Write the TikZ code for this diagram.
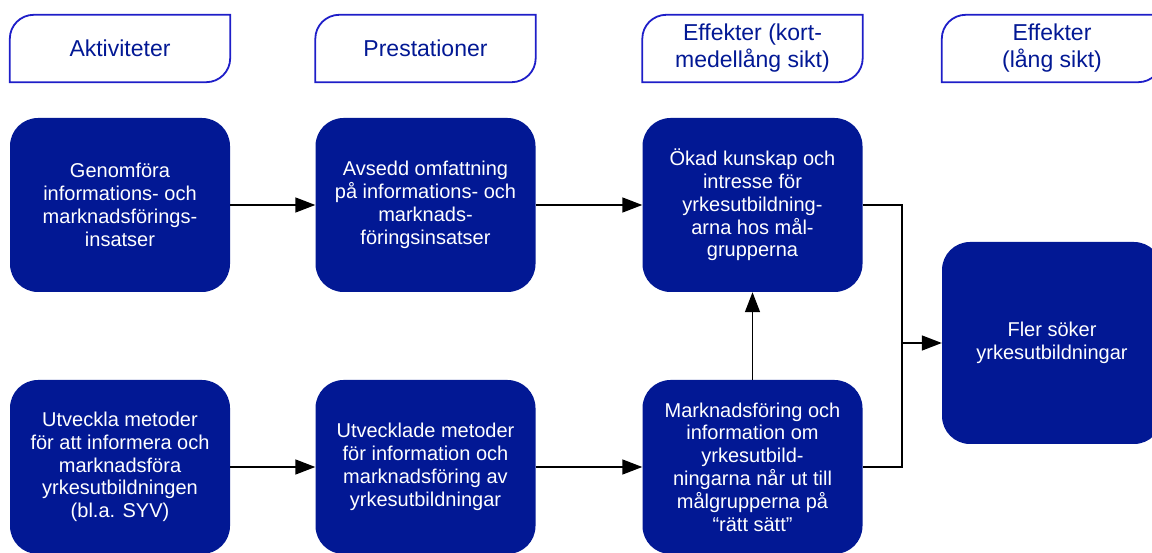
\documentclass[tikz,border=0pt]{standalone}
\usepackage{fontspec}
\setmainfont{Liberation Sans}
\usetikzlibrary{arrows.meta}
\definecolor{navy}{RGB}{2,24,148}
\definecolor{hdrblue}{RGB}{30,30,200}
\begin{document}
\begin{tikzpicture}[x=1pt,y=1pt,
  box/.style={fill=navy,draw=none,rounded corners=28pt,minimum width=220pt,text=white,
    align=center,font=\fontsize{20}{22.8}\selectfont,inner sep=0pt},
  hdr/.style={minimum width=220pt,minimum height=67pt,text=navy,align=center,
    font=\fontsize{23}{27}\selectfont,inner sep=0pt},
  hdrline/.style={draw=hdrblue,line width=1.8pt},
  conn/.style={line width=1.5pt,black},
  arr/.style={conn,-{Triangle[length=20pt,width=15pt]}}]
\useasboundingbox (0,0) rectangle (1152,552);
% headers
\node[hdr] (h1) at (120,503.5) {Aktiviteter};
\node[hdr] (h2) at (425.5,503.5) {Prestationer};
\node[hdr] (h3) at (752.5,503.5) {Effekter (kort-\\medellång sikt)};
\node[hdr] (h4) at (1052,503.5) {Effekter\\(lång sikt)};
\foreach \n in {h1,h2,h3,h4}
  \draw[hdrline] (\n.south west) -- ([yshift=-24pt]\n.north west)
    arc[start angle=180,end angle=90,radius=24pt] -- (\n.north east)
    -- ([yshift=24pt]\n.south east) arc[start angle=0,end angle=-90,radius=24pt] -- cycle;
% boxes
\node[box,minimum height=174pt] (b1) at (120,347) {Genomföra\\informations- och\\marknadsförings-\\insatser};
\node[box,minimum height=174pt] (b2) at (425.5,347) {Avsedd omfattning\\på informations- och\\marknads-\\föringsinsatser};
\node[box,minimum height=174pt] (b3) at (752.5,347) {Ökad kunskap och\\intresse för\\yrkesutbildning-\\arna hos mål-\\grupperna};
\node[box,minimum height=174pt] (b4) at (120,85) {Utveckla metoder\\för att informera och\\marknadsföra\\yrkesutbildningen\\(bl.a. SYV)};
\node[box,minimum height=174pt] (b5) at (425.5,85) {Utvecklade metoder\\för information och\\marknadsföring av\\yrkesutbildningar};
\node[box,minimum height=174pt] (b6) at (752.5,85) {Marknadsföring och\\information om\\yrkesutbild-\\ningarna når ut till\\målgrupperna på\\“rätt sätt”};
\node[box,minimum height=202pt] (b7) at (1052,209) {Fler söker\\yrkesutbildningar};
% connectors
\draw[arr] (b1) -- (b2);
\draw[arr] (b2) -- (b3);
\draw[arr] (b4) -- (b5);
\draw[arr] (b5) -- (b6);
\draw[arr] (b6) -- (b3);
\coordinate (j) at (902,209);
\draw[conn] (b3.east) -| (j) |- (b6.east);
\draw[arr] (j) -- (b7.west);
\end{tikzpicture}
\end{document}
